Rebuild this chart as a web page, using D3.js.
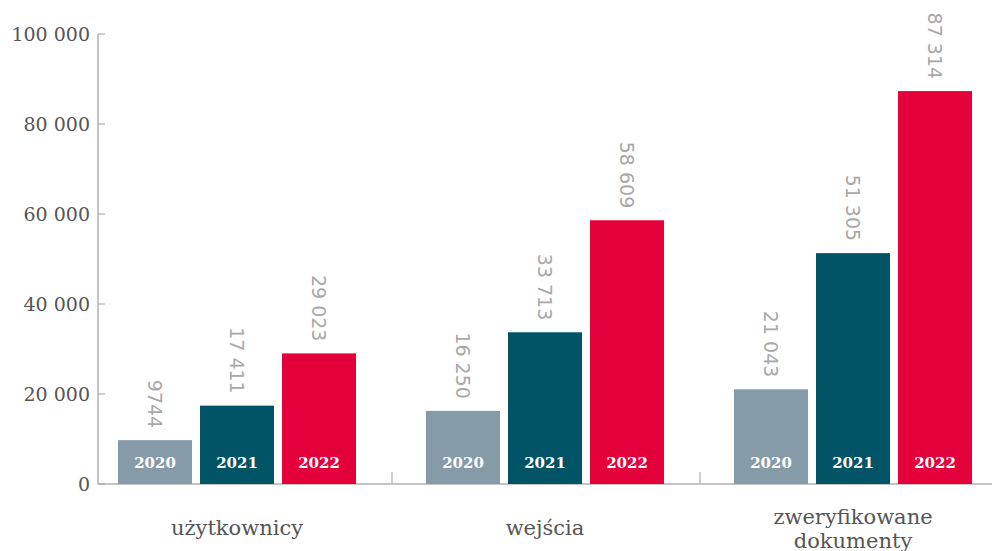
<!DOCTYPE html>
<html lang="pl">
<head>
<meta charset="utf-8">
<title>Statystyki 2020-2022</title>
<script src="https://cdn.jsdelivr.net/npm/d3@7"></script>
<style>
  body { margin: 0; background: #fff; }
  svg { display: block; }
  .tick-label { font-family: "DejaVu Serif", serif; font-size: 19px; fill: #555; }
  .cat-label { font-family: "DejaVu Serif", serif; font-size: 21px; fill: #555; }
  .val-label { font-family: "DejaVu Sans", sans-serif; font-size: 19px; fill: #a8a8a8; }
  .year-label { font-family: "DejaVu Serif", serif; font-size: 15px; font-weight: bold; fill: #fff; }
</style>
</head>
<body>
<div id="chart"></div>
<script>
  // data
  var categories = ["użytkownicy", "wejścia", "zweryfikowane dokumenty"];
  var categoryLines = [["użytkownicy"], ["wejścia"], ["zweryfikowane", "dokumenty"]];
  var years = ["2020", "2021", "2022"];
  var values2020 = [9744, 16250, 21043];
  var values2021 = [17411, 33713, 51305];
  var values2022 = [29023, 58609, 87314];
  var yTicks = [0, 20000, 40000, 60000, 80000, 100000];
  var yearColors = ["#869ba8", "#015366", "#e4003a"];

  var series = [values2020, values2021, values2022];

  var width = 992, height = 551;
  var svg = d3.select("#chart").append("svg")
      .attr("width", width)
      .attr("height", height);

  var y = d3.scaleLinear()
    .domain([0, 100000])
    .range([484, 34]);

  var x0 = d3.scaleBand()
    .domain(categories)
    .range([83, 1007]);

  var x1 = d3.scaleBand()
    .domain(years)
    .range([31, 277])
    .paddingInner(0.0976)
    .paddingOuter(0.0488);

  function fmt(v) {
    if (v < 10000) return String(v);
    return d3.format(",")(v).replace(/,/g, " ");
  }

  // baseline + group separators
  svg.append("line")
    .attr("x1", 98).attr("x2", width)
    .attr("y1", y(0)).attr("y2", y(0))
    .attr("stroke", "#b0b0b0").attr("stroke-width", 1.5);

  categories.slice(1).forEach(function(c) {
    svg.append("line")
      .attr("x1", x0(c) + 1).attr("x2", x0(c) + 1)
      .attr("y1", y(0)).attr("y2", y(0) - 12)
      .attr("stroke", "#b0b0b0").attr("stroke-width", 1.2);
  });

  // y axis
  var yAxis = svg.append("g").attr("class", "y axis");
  yAxis.append("line")
    .attr("x1", 98).attr("x2", 98)
    .attr("y1", y(100000)).attr("y2", y(0))
    .attr("stroke", "#b0b0b0").attr("stroke-width", 1.5);

  yAxis.selectAll("line.tick")
    .data(yTicks)
    .enter().append("line")
      .attr("class", "tick")
      .attr("x1", 98).attr("x2", 105)
      .attr("y1", function(d) { return y(d); })
      .attr("y2", function(d) { return y(d); })
      .attr("stroke", "#b0b0b0").attr("stroke-width", 1.2);

  yAxis.selectAll("text")
    .data(yTicks)
    .enter().append("text")
      .attr("class", "tick-label")
      .attr("x", 90)
      .attr("y", function(d) { return y(d); })
      .attr("dy", "0.35em")
      .attr("text-anchor", "end")
      .text(fmt);

  // bars
  var groups = svg.append("g").selectAll("g")
    .data(categories)
    .enter().append("g")
      .attr("transform", function(d) { return "translate(" + x0(d) + ",0)"; });

  var cells = groups.selectAll("g")
    .data(function(d, i) {
      return years.map(function(yr, j) { return { year: yr, j: j, value: series[j][i] }; });
    })
    .enter().append("g");

  cells.append("rect")
    .attr("x", function(d) { return x1(d.year); })
    .attr("y", function(d) { return y(d.value); })
    .attr("width", x1.bandwidth())
    .attr("height", function(d) { return y(0) - y(d.value); })
    .attr("fill", function(d) { return yearColors[d.j]; });

  cells.append("text")
    .attr("class", "year-label")
    .attr("x", function(d) { return x1(d.year) + x1.bandwidth() / 2; })
    .attr("y", 463)
    .attr("dy", "0.35em")
    .attr("text-anchor", "middle")
    .text(function(d) { return d.year; });

  cells.append("text")
    .attr("class", "val-label")
    .attr("text-anchor", "end")
    .attr("dominant-baseline", "central")
    .attr("transform", function(d) {
      var cx = x1(d.year) + x1.bandwidth() / 2;
      return "translate(" + cx + "," + (y(d.value) - 12) + ")rotate(90)";
    })
    .text(function(d) { return fmt(d.value); });

  // category labels
  categories.forEach(function(c, i) {
    var lines = categoryLines[i];
    var t = svg.append("text")
      .attr("class", "cat-label")
      .attr("text-anchor", "middle")
      .attr("x", x0(c) + x0.bandwidth() / 2);
    lines.forEach(function(l, k) {
      t.append("tspan")
        .attr("x", x0(c) + x0.bandwidth() / 2)
        .attr("y", lines.length === 1 ? 535 : 524 + k * 24)
        .text(l);
    });
  });
</script>
</body>
</html>
